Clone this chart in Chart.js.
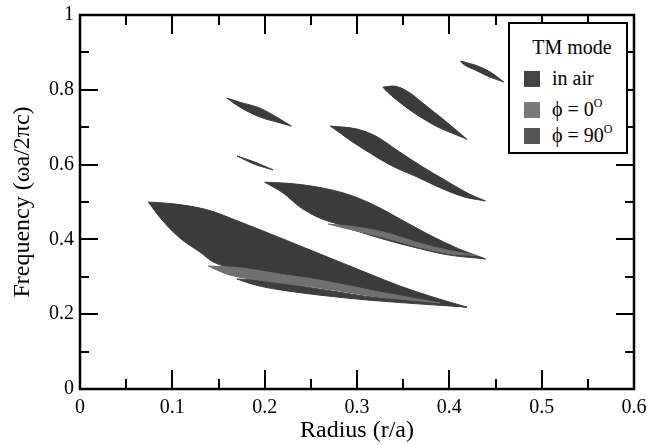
<!DOCTYPE html>
<html lang="en">
<head>
  <meta charset="UTF-8">
  <title>TM mode gap map</title>
  <script src="https://cdn.jsdelivr.net/npm/chart.js@4.4.1/dist/chart.umd.min.js"></script>
  <style>
    * { margin: 0; padding: 0; box-sizing: border-box; }
    body { background: white; width: 649px; height: 445px; overflow: hidden; font-family: 'Liberation Serif', 'DejaVu Serif', serif; }
    .wrap { position: relative; width: 649px; height: 445px; }
    canvas { display: block; }
    .legend { position: absolute; left: 508px; top: 22px; width: 120px; height: 132px; border: 2px solid black; background: white; font-size: 20px; color: black; }
    .legend .ttl { position: absolute; left: 0; width: 116px; top: 12px; text-align: center; padding-left: 8px; }
    .legend .row { position: absolute; left: 14px; height: 22px; line-height: 22px; white-space: nowrap; }
    .legend .sw { display: inline-block; width: 16px; height: 16px; vertical-align: -2px; margin-right: 12px; }
    .legend sup { font-size: 12px; vertical-align: 9px; line-height: 0; }
  </style>
</head>
<body>
  <div class="wrap">
    <canvas id="gapChart" width="649" height="445"></canvas>
    <div class="legend" id="legend"></div>
  </div>

  <script>
    // axis ticks
    var xTickValues = [0, 0.1, 0.2, 0.3, 0.4, 0.5, 0.6];
    var yTickValues = [0, 0.2, 0.4, 0.6, 0.8, 1];

    // gap regions: upper and lower edge, left tip to right tip, [r/a, wa/2pic]
    var airLowUp = [[0.074,0.500],[0.101,0.495],[0.138,0.479],[0.173,0.447],[0.209,0.412],[0.260,0.361],[0.311,0.310],[0.347,0.275],[0.382,0.246],[0.419,0.219]];
    var airLowDn = [[0.074,0.500],[0.087,0.457],[0.108,0.404],[0.130,0.366],[0.144,0.340],[0.184,0.313],[0.238,0.283],[0.292,0.259],[0.347,0.238],[0.419,0.219]];
    var airMidUp = [[0.200,0.553],[0.225,0.550],[0.257,0.540],[0.292,0.519],[0.320,0.490],[0.350,0.450],[0.380,0.410],[0.410,0.375],[0.439,0.348]];
    var airMidDn = [[0.200,0.553],[0.220,0.524],[0.238,0.487],[0.257,0.460],[0.271,0.447],[0.303,0.425],[0.347,0.398],[0.390,0.368],[0.439,0.348]];
    var airUp1Up = [[0.271,0.703],[0.300,0.695],[0.322,0.674],[0.343,0.639],[0.371,0.594],[0.397,0.556],[0.422,0.521],[0.439,0.503]];
    var airUp1Dn = [[0.271,0.703],[0.282,0.684],[0.292,0.666],[0.314,0.631],[0.336,0.599],[0.365,0.567],[0.393,0.535],[0.417,0.513],[0.439,0.503]];
    var airUp2Up = [[0.328,0.807],[0.339,0.810],[0.354,0.797],[0.371,0.765],[0.393,0.722],[0.419,0.668]];
    var airUp2Dn = [[0.328,0.807],[0.333,0.794],[0.347,0.765],[0.365,0.733],[0.387,0.701],[0.408,0.679],[0.419,0.668]];
    var airTopUp = [[0.412,0.877],[0.428,0.866],[0.444,0.848],[0.459,0.821]];
    var airTopDn = [[0.412,0.877],[0.415,0.869],[0.428,0.853],[0.444,0.834],[0.459,0.821]];
    var airLeftUp = [[0.159,0.778],[0.173,0.767],[0.195,0.751],[0.213,0.727],[0.229,0.703]];
    var airLeftDn = [[0.159,0.778],[0.173,0.754],[0.195,0.727],[0.213,0.714],[0.229,0.703]];
    var airSlivUp = [[0.170,0.623],[0.190,0.606],[0.209,0.586]];
    var airSlivDn = [[0.170,0.623],[0.190,0.600],[0.209,0.586]];

    var phi0LowUp = [[0.139,0.329],[0.173,0.324],[0.217,0.307],[0.260,0.291],[0.325,0.259],[0.390,0.230]];
    var phi0LowDn = [[0.139,0.329],[0.143,0.324],[0.162,0.305],[0.195,0.291],[0.260,0.270],[0.325,0.246],[0.390,0.230]];
    var phi0MidUp = [[0.269,0.441],[0.290,0.436],[0.328,0.420],[0.365,0.392],[0.400,0.370],[0.430,0.357]];
    var phi0MidDn = [[0.269,0.441],[0.290,0.428],[0.328,0.406],[0.365,0.381],[0.400,0.362],[0.430,0.357]];

    var phi90LowUp = [[0.170,0.294],[0.195,0.291],[0.260,0.267],[0.325,0.243],[0.390,0.228],[0.419,0.219]];
    var phi90LowDn = [[0.170,0.294],[0.190,0.278],[0.217,0.265],[0.260,0.251],[0.311,0.238],[0.382,0.225],[0.419,0.219]];
    var phi90MidUp = [[0.290,0.430],[0.328,0.408],[0.365,0.383],[0.400,0.364],[0.439,0.348]];
    var phi90MidDn = [[0.290,0.430],[0.328,0.401],[0.365,0.377],[0.400,0.358],[0.439,0.348]];

    var airShapes = [[airLowUp, airLowDn], [airMidUp, airMidDn], [airUp1Up, airUp1Dn], [airUp2Up, airUp2Dn], [airTopUp, airTopDn], [airLeftUp, airLeftDn], [airSlivUp, airSlivDn]];
    var phi0Shapes = [[phi0LowUp, phi0LowDn], [phi0MidUp, phi0MidDn]];
    var phi90Shapes = [[phi90LowUp, phi90LowDn], [phi90MidUp, phi90MidDn]];

    var seriesNames = ['in air', '\u03d5 = 0', '\u03d5 = 90'];
    var seriesColors = ['#3b3b3b', '#707070', '#3e3e3e'];
    var legendColors = ['#454545', '#7a7a7a', '#555555'];

    function toPoints(edge) {
      return edge.map(function (p) { return { x: p[0], y: p[1] }; });
    }

    var datasets = [];
    function addShapes(shapes, color, order, name) {
      shapes.forEach(function (s) {
        var common = {
          label: name, showLine: true, borderColor: color, backgroundColor: color,
          borderWidth: 1, pointRadius: 0, cubicInterpolationMode: 'monotone', order: order
        };
        datasets.push(Object.assign({ data: toPoints(s[0]), fill: '+1' }, common));
        datasets.push(Object.assign({ data: toPoints(s[1]), fill: false }, common));
      });
    }
    addShapes(airShapes, seriesColors[0], 3, seriesNames[0]);
    addShapes(phi0Shapes, seriesColors[1], 1, seriesNames[1]);
    addShapes(phi90Shapes, seriesColors[2], 2, seriesNames[2]);

    // frame and inward tick marks
    var frameTicks = {
      id: 'frameTicks',
      afterDraw: function (chart) {
        var ctx = chart.ctx, a = chart.chartArea;
        var sx = chart.scales.x, sy = chart.scales.y;
        var L = a.left, R = a.right, T = a.top, B = a.bottom;
        ctx.save();
        ctx.fillStyle = '#000000';
        for (var i = 0; i <= 12; i++) {
          var px = Math.round(sx.getPixelForValue(i * 0.05));
          var len = (i % 2 === 0) ? 19 : 10;
          ctx.fillRect(px - 1, B - len, 2, len);
          ctx.fillRect(px - 1, T, 2, len);
        }
        for (var j = 0; j <= 10; j++) {
          var py = Math.round(sy.getPixelForValue(j * 0.1));
          var ylen = (j % 2 === 0) ? 18 : 9;
          ctx.fillRect(L, py - 1, ylen, 2);
          ctx.fillRect(R - ylen, py - 1, ylen, 2);
        }
        ctx.strokeStyle = '#000000';
        ctx.lineWidth = 2.5;
        ctx.strokeRect(L, T, R - L, B - T);
        ctx.restore();
      }
    };

    var serif = 'Liberation Serif';
    new Chart(document.getElementById('gapChart').getContext('2d'), {
      type: 'scatter',
      data: { datasets: datasets },
      options: {
        responsive: false,
        animation: false,
        layout: { padding: { top: 15, right: 15, left: 0, bottom: 0 } },
        plugins: { legend: { display: false }, tooltip: { enabled: false } },
        scales: {
          x: {
            type: 'linear', min: 0, max: 0.6,
            afterBuildTicks: function (s) { s.ticks = xTickValues.map(function (v) { return { value: v }; }); },
            afterFit: function (s) { s.height = 56; s.paddingLeft = 0; s.paddingRight = 0; },
            grid: { display: false, drawTicks: false },
            border: { display: false },
            ticks: { padding: 7, color: 'black', font: { family: serif, size: 20 }, callback: function (v) { return String(v); } },
            title: { display: true, text: 'Radius (r/a)', color: 'black', padding: { top: 0, bottom: 0 }, font: { family: serif, size: 24 } }
          },
          y: {
            type: 'linear', min: 0, max: 1,
            afterBuildTicks: function (s) { s.ticks = yTickValues.map(function (v) { return { value: v }; }); },
            afterFit: function (s) { s.width = 80; s.paddingTop = 0; s.paddingBottom = 0; },
            grid: { display: false, drawTicks: false },
            border: { display: false },
            ticks: { padding: 6, color: 'black', font: { family: serif, size: 20 }, callback: function (v) { return String(v); } },
            title: { display: true, text: 'Frequency (\u03c9a/2\u03c0c)', color: 'black', padding: { top: 8, bottom: 0 }, font: { family: serif, size: 24 } }
          }
        }
      },
      plugins: [frameTicks]
    });

    // legend box
    var legendHtml = '<div class="ttl">TM mode</div>';
    var rowTops = [43, 74, 100];
    var rowTexts = ['in air', '\u03d5 = 0<sup>O</sup>', '\u03d5 = 90<sup>O</sup>'];
    for (var k = 0; k < 3; k++) {
      legendHtml += '<div class="row" style="top:' + rowTops[k] + 'px"><span class="sw" style="background:' + legendColors[k] + '"></span>' + rowTexts[k] + '</div>';
    }
    document.getElementById('legend').innerHTML = legendHtml;
  </script>
</body>
</html>
